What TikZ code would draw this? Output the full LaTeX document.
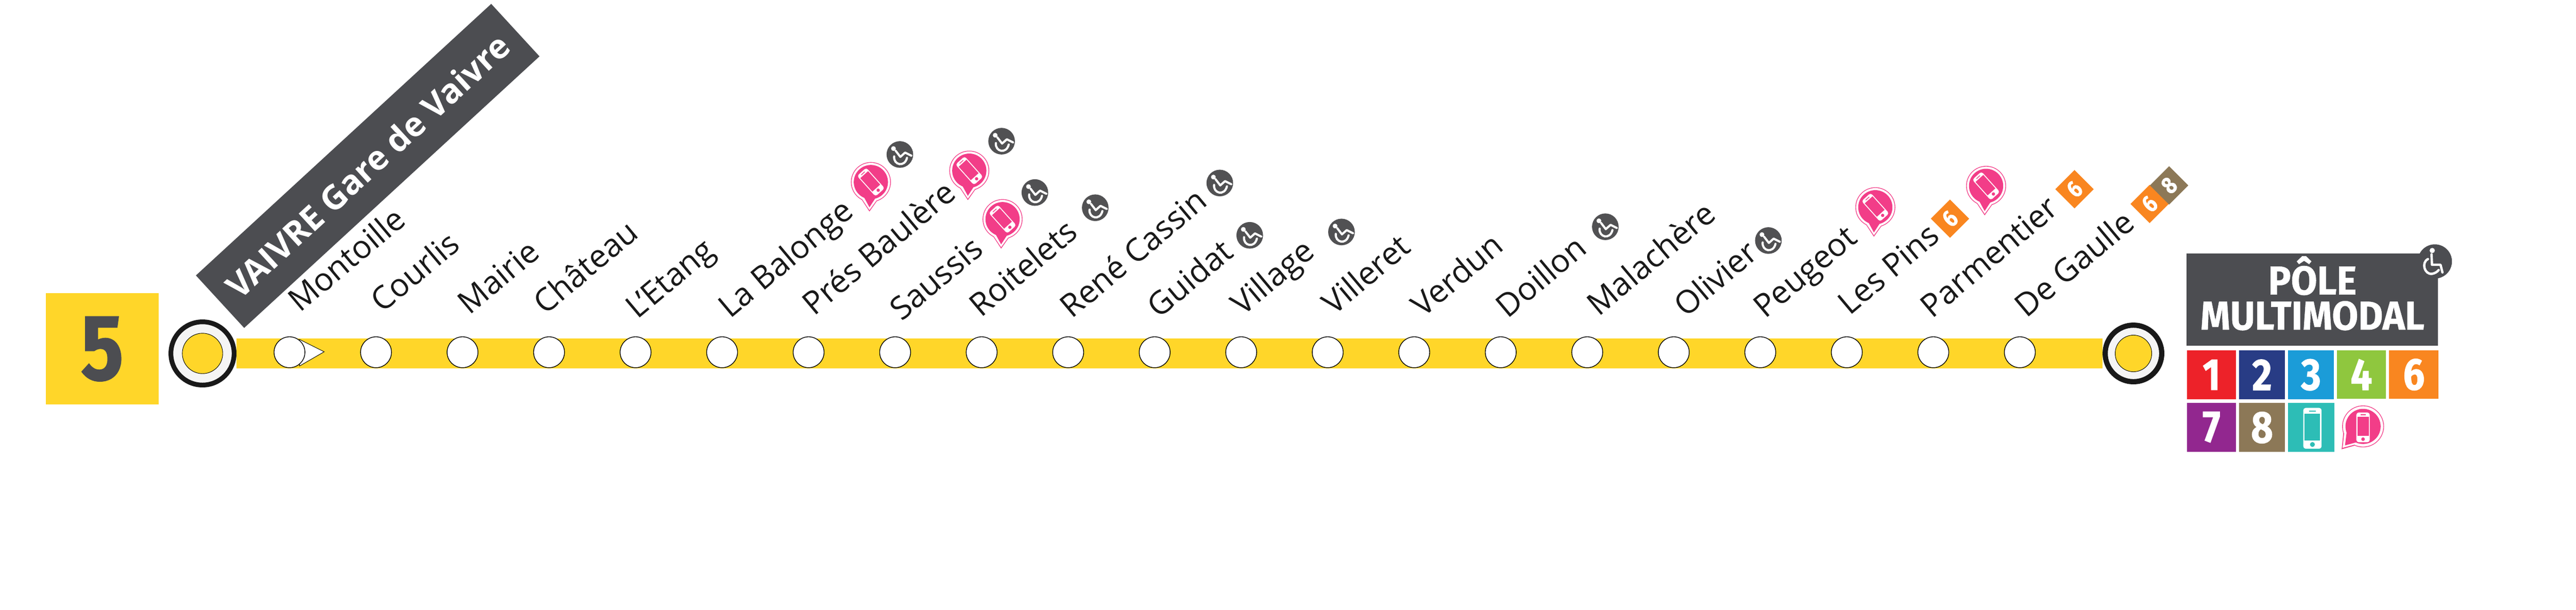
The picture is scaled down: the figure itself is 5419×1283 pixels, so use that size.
\documentclass[tikz,border=0pt]{standalone}
\usepackage{fontspec}
\setmainfont{Open Sans}
\newfontfamily\dinfont[FakeStretch=0.85,BoldFeatures={FakeBold=1.2}]{Fira Sans}
\newfontfamily\panelfont[FakeStretch=0.94,BoldFeatures={FakeBold=0.6}]{Fira Sans}
\usetikzlibrary{positioning}
\definecolor{lineyellow}{HTML}{FFD629}
\definecolor{slate}{HTML}{4C4D51}
\definecolor{badgegrey}{HTML}{515153}
\definecolor{pinkpin}{HTML}{F23D88}
\definecolor{lineone}{HTML}{ED2229}
\definecolor{linetwo}{HTML}{283C85}
\definecolor{linethree}{HTML}{1B9CD8}
\definecolor{linefour}{HTML}{8FC73E}
\definecolor{linesix}{HTML}{F98620}
\definecolor{lineseven}{HTML}{92278F}
\definecolor{lineeight}{HTML}{8C7857}
\definecolor{teal}{HTML}{2DBDB6}
\begin{document}
\begin{tikzpicture}[x=1pt, y=-1pt, node distance=182pt,
    stop/.style = {draw, circle, fill=white, line width=1.5pt, minimum size=65pt, inner sep=0pt},
    terminal/.style = {draw=black!90, circle, fill=black!4, inner sep=0pt},
    core/.style = {draw=black, circle, fill=lineyellow, line width=1pt, inner sep=0pt},
    lbl/.style = {anchor=base west, rotate=40, inner sep=0pt, text=black!90, font=\fontsize{67}{78}\selectfont},
    tile/.style = {fill=#1, inner sep=0pt, text=white, font=\dinfont\bfseries\fontsize{94}{94}\selectfont},
    dia/.style = {fill=#1, rotate=45, minimum size=57pt, inner sep=0pt, text=white, font=\dinfont\bfseries\fontsize{50}{50}\selectfont},
    pics/phone/.style = {code={
        \fill[white, rounded corners=5pt] (-13,-29) rectangle (13,29);
        \fill[#1] (-11,-21) rectangle (11,17);
        \fill[#1] (-5,-25.5) rectangle (5,-24);
        \fill[#1] (0,23) circle [radius=3.5];
    }},
    pics/pin/.style = {code={
        \fill[pinkpin] (0,0) circle [radius=42];
        \fill[pinkpin] (-20,36) -- (-3,62) -- (14,38) -- cycle;
        \fill[white] (0,0) circle [radius=40.5];
        \fill[white] (-19,35) -- (-3,59) -- (13,37) -- cycle;
        \fill[pinkpin] (0,0) circle [radius=36];
        \fill[pinkpin] (-15,31) -- (-3,53) -- (10,33) -- cycle;
        \pic[rotate=42] {phone=pinkpin};
    }},
    pics/wheel/.style = {code={
        \fill[badgegrey] (0,0) circle [radius=28];
        \fill[white] (-13.5,-12.5) circle [radius=5];
        \draw[white, line width=4.5pt, line cap=round, line join=round] (-9,-8) -- (1,5) -- (11,-4) -- (24,2.5);
        \draw[white, line width=4.5pt, line cap=round] (-12,4) .. controls (-14,22) and (10,28) .. (15,7);
    }}]
  \useasboundingbox (0,0) rectangle (5419,1283);
  % line number and terminals
  \node[fill=lineyellow, minimum width=238pt, minimum height=234pt, text=slate, font=\dinfont\bfseries\fontsize{196}{196}\selectfont] (five) at (215,734) {5};
  \node[terminal, line width=10pt, minimum size=133pt] (vaivre) at (426,743.5) {};
  \node[core, minimum size=85pt] (vaivrecore) at (vaivre) {};
  \node[terminal, line width=11pt, minimum size=119pt] (pole) at (4488,743.5) {};
  \node[core, minimum size=77pt] (polecore) at (pole) {};
  \draw[lineyellow, line width=63pt] (vaivre) -- (pole);
  % direction mark, under the first stop
  \coordinate (tipa) at (630,714);
  \coordinate (tipb) at (682,740);
  \coordinate (tipc) at (630,770);
  \draw[fill=white, line width=1pt] (tipa) -- (tipb) -- (tipc) -- cycle;
  % stops
  \node[stop] (s1) at (609,741) {};
  \node[stop] (s2) [right of=s1] {};
  \node[stop] (s3) [right of=s2] {};
  \node[stop] (s4) [right of=s3] {};
  \node[stop] (s5) [right of=s4] {};
  \node[stop] (s6) [right of=s5] {};
  \node[stop] (s7) [right of=s6] {};
  \node[stop] (s8) [right of=s7] {};
  \node[stop] (s9) [right of=s8] {};
  \node[stop] (s10) [right of=s9] {};
  \node[stop] (s11) [right of=s10] {};
  \node[stop] (s12) [right of=s11] {};
  \node[stop] (s13) [right of=s12] {};
  \node[stop] (s14) [right of=s13] {};
  \node[stop] (s15) [right of=s14] {};
  \node[stop] (s16) [right of=s15] {};
  \node[stop] (s17) [right of=s16] {};
  \node[stop] (s18) [right of=s17] {};
  \node[stop] (s19) [right of=s18] {};
  \node[stop] (s20) [right of=s19] {};
  \node[stop] (s21) [right of=s20] {};
  % names
  \node[lbl] (n1) at (631,659) {Montoille};
  \node[lbl] (n2) at (805,660) {Courlis};
  \node[lbl] (n3) at (988,664) {Mairie};
  \node[lbl] (n4) at (1147,664) {Château};
  \node[lbl] (n5) at (1341,673) {L’Etang};
  \node[lbl] (n6) at (1536,672) {La Balonge};
  \node[lbl] (n7) at (1713,666) {Prés Baulère};
  \node[lbl] (n8) at (1897,677) {Saussis};
  \node[lbl] (n9) at (2064,669) {Roitelets};
  \node[lbl] (n10) at (2255,672) {René Cassin};
  \node[lbl] (n11) at (2438,671) {Guidat};
  \node[lbl] (n12) at (2614,666) {Village};
  \node[lbl] (n13) at (2806,665) {Villeret};
  \node[lbl] (n14) at (2994,669) {Verdun};
  \node[lbl] (n15) at (3172,672) {Doillon};
  \node[lbl] (n16) at (3363,667) {Malachère};
  \node[lbl] (n17) at (3547,669) {Olivier};
  \node[lbl] (n18) at (3713,672) {Peugeot};
  \node[lbl] (n19) at (3891,665) {Les Pins};
  \node[lbl] (n20) at (4065,671) {Parmentier};
  \node[lbl] (n21) at (4263,670) {De Gaulle};
  % start banner
  \node[fill=slate, rotate=42.6, minimum width=844pt, minimum height=150pt, inner sep=0pt, text=white, font=\bfseries\fontsize{71}{71}\selectfont] (gare) at (773.5,349) {VAIVRE Gare de Vaivre};
  % access badges
  \pic at (1893,325) {wheel};
  \pic at (2107,297) {wheel};
  \pic at (2177,405) {wheel};
  \pic at (2304,437) {wheel};
  \pic at (2566,385) {wheel};
  \pic at (2629,495) {wheel};
  \pic at (2822,488) {wheel};
  \pic at (3377,477) {wheel};
  \pic at (3720,506) {wheel};
  \pic at (1832,383) {pin};
  \pic at (2039,359) {pin};
  \pic at (2109,461) {pin};
  \pic at (3945,436) {pin};
  \pic at (4178,391) {pin};
  % connections
  \node[dia=linesix] (pins6) at (4102,460) {6};
  \node[dia=linesix] (parm6) at (4364,398) {6};
  \node[dia=linesix] (gaul6) at (4522,429) {6};
  \node[dia=lineeight] (gaul8) at (4563,390) {8};
  % multimodal panel
  \node[fill=slate, minimum width=529pt, minimum height=194pt, inner sep=0pt] (panel) at (4864.5,630) {};
  \node[text=white, align=center, inner sep=0pt, yshift=13pt, font=\panelfont\bfseries\fontsize{85}{74}\selectfont] (paneltext) at (panel.center) {PÔLE\\MULTIMODAL};
  \fill[slate] (5122,550) circle [radius=36];
  \fill[white] (5116.5,527) circle [radius=5.5];
  \draw[white, line width=5pt, line cap=round, line join=round] (5115,535) -- (5116,557) -- (5134,557) -- (5138,573);
  \draw[white, line width=5pt, line cap=round] (5107.5,545) .. controls (5093,552) and (5100,578) .. (5116,576) .. controls (5122,575) and (5127,572) .. (5130,568);
  \node[tile=lineone, minimum width=103.5pt, minimum height=103pt] (t1) at (4652.2,788.5) {1};
  \node[tile=linetwo, minimum width=97pt, minimum height=103pt] (t2) at (4758.5,788.5) {2};
  \node[tile=linethree, minimum width=97pt, minimum height=103pt] (t3) at (4861.5,788.5) {3};
  \node[tile=linefour, minimum width=103pt, minimum height=102pt] (t4) at (4967.5,788) {4};
  \node[tile=linesix, minimum width=104pt, minimum height=102pt] (t6) at (5078,788) {6};
  \node[tile=lineseven, minimum width=103.5pt, minimum height=103pt] (t7) at (4652.2,898.5) {7};
  \node[tile=lineeight, minimum width=97pt, minimum height=103pt] (t8) at (4758.5,899.5) {8};
  \node[tile=teal, minimum width=98pt, minimum height=103pt] (tphone) at (4862,899.5) {};
  \pic[scale=1.48] at (4864.5,901) {phone=teal};
  % pink bubble
  \fill[pinkpin] (4971,897) circle [radius=44];
  \fill[pinkpin] (4930,905) -- (4926,945) -- (4962,935) -- cycle;
  \fill[white] (4971,897) circle [radius=42.5];
  \fill[white] (4932,905) -- (4928,942) -- (4962,933) -- cycle;
  \fill[pinkpin] (4971,897) circle [radius=37];
  \fill[pinkpin] (4937,905) -- (4933,937) -- (4962,929) -- cycle;
  \pic[scale=1.08] at (4971,899) {phone=pinkpin};
\end{tikzpicture}
\end{document}
